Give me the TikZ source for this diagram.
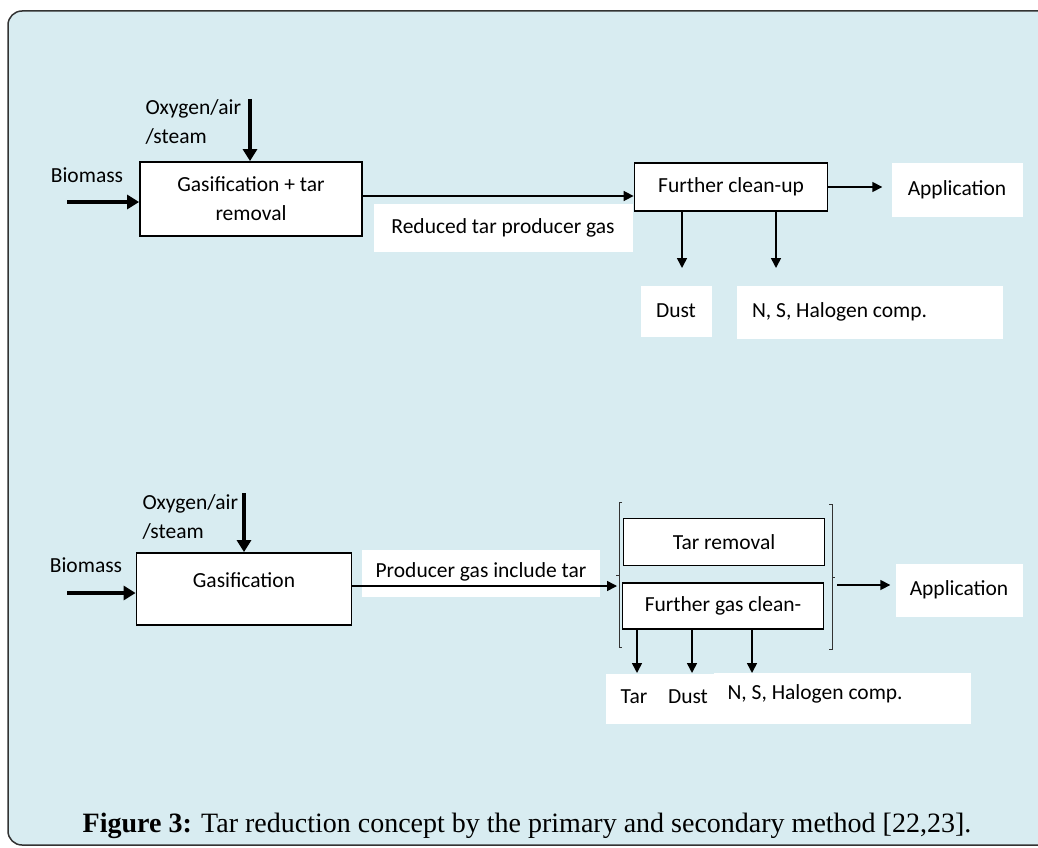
\documentclass[tikz,border=0pt]{standalone}
\usepackage{fontspec}
\setmainfont{Carlito}
\newfontfamily\capfont{Liberation Serif}
\usepackage{tikz}
\usetikzlibrary{positioning}
\usetikzlibrary{arrows.meta}
\definecolor{panel}{RGB}{216,236,241}

\tikzset{
  box/.style={draw, line width=1.8pt, fill=white, inner sep=2pt, align=center},
  tag/.style={fill=white, inner sep=0pt, align=center},
  flow/.style={line width=1.6pt, -{Triangle[length=10pt,width=10pt]}},
  feed/.style={line width=4.5pt, -{Triangle[length=12pt,width=14pt]}},
  brack/.style={line width=1pt, draw=black!80}
}

\begin{document}
\begin{tikzpicture}[x=1pt,y=-1pt,font=\fontsize{21.5}{29}\selectfont]
    \useasboundingbox (0,0) rectangle (1038,848);
    \clip (0,0) rectangle (1038,848);
    % Panel
    \draw[fill=panel, line width=1.5pt, draw=black!80, rounded corners=14pt] (8,11) rectangle (1060,845);

    % Primary method
    \node[box, minimum width=222pt, minimum height=74pt] (gas1) at (251,199) {Gasification + tar\\removal};
    \node (bio1) at (87,175) {Biomass};
    \coordinate (bio1s) at (67,202);
    \draw[feed] (bio1s) -- (bio1s -| gas1.west);
    \node[anchor=west, align=left] (oxy1) at (142,122) {Oxygen/air\\/steam};
    \coordinate (oxy1s) at (250,99);
    \draw[feed] (oxy1s) -- (oxy1s |- gas1.north);

    \node[tag, minimum width=259pt, minimum height=48pt] (red1) at (503,228) {Reduced tar producer gas};
    \node[box, minimum width=193pt, minimum height=48pt] (clean1) at (731,187) {Further clean-up};
    \coordinate (g1) at (0,196);
    \draw[flow] (gas1.east |- g1) -- (clean1.west |- g1);

    \node[tag, minimum width=131pt, minimum height=54pt] (app1) at (957,190) {Application};
    \draw[flow] (clean1.east) -- ([xshift=-9pt]app1.west |- clean1.east);

    \node[tag, minimum width=71pt, minimum height=51pt] (dust1) at (676,311) {Dust};
    \node[tag, minimum width=266pt, minimum height=53pt, text width=236pt, align=flush left] (hal1) at (870,312) {N, S, Halogen comp.};
    \coordinate (d1) at (682,268);
    \coordinate (d2) at (776,268);
    \draw[flow] (d1 |- clean1.south) -- (d1);
    \draw[flow] (d2 |- clean1.south) -- (d2);

    % Secondary method
    \node[box, minimum width=215pt, minimum height=72pt, label={[yshift=9pt]center:Gasification}] (gas2) at (244,589) {};
    \node (bio2) at (86,565) {Biomass};
    \coordinate (bio2s) at (67,593);
    \draw[feed] (bio2s) -- (bio2s -| gas2.west);
    \node[anchor=west, align=left] (oxy2) at (139,517) {Oxygen/air\\/steam};
    \coordinate (oxy2s) at (244,493);
    \draw[feed] (oxy2s) -- (oxy2s |- gas2.north);

    \node[tag, minimum width=238pt, minimum height=47pt] (prod2) at (481,573) {\raisebox{5pt}{Producer gas include tar}};
    \node[box, minimum width=201pt, minimum height=47pt] (tar2) at (724,542) {Tar removal};
    \node[box, minimum width=201pt, minimum height=46pt] (clean2) at (723,606) {Further gas clean-};

    % brackets
    \draw[brack] (622,502) -- (619,502) -- (619,647) -- (622,647);
    \draw[brack] (619,575) -- (616,575);
    \draw[brack] (829,504) -- (832,504) -- (832,649) -- (829,649);
    \draw[brack] (832,577) -- (835,577);
    \coordinate (bl) at (617,586);
    \coordinate (br) at (837,585);
    \draw[flow] (gas2.east |- bl) -- (bl);

    \node[tag, minimum width=127pt, minimum height=53pt] (app2) at (959,590) {Application};
    \draw[flow] (br) -- ([xshift=-5pt]app2.west |- br);

    \fill[white] (606,674) rectangle (714,724);
    \fill[white] (714,673) rectangle (971,724);
    \node (tar3) at (634,697) {Tar};
    \node (dust3) at (688,697) {Dust};
    \node[anchor=west] (hal3) at (724,694) {N, S, Halogen comp.};
    \coordinate (e1) at (637,673);
    \coordinate (e2) at (692,673);
    \coordinate (e3) at (752,673);
    \draw[flow] (e1 |- clean2.south) -- (e1);
    \draw[flow] (e2 |- clean2.south) -- (e2);
    \draw[flow] (e3 |- clean2.south) -- (e3);

    % Caption
    \node[anchor=base] (cap) at (527,832) {\capfont\fontsize{28}{32}\selectfont\textbf{Figure 3:} Tar reduction concept by the primary and secondary method [22,23].};
\end{tikzpicture}
\end{document}
